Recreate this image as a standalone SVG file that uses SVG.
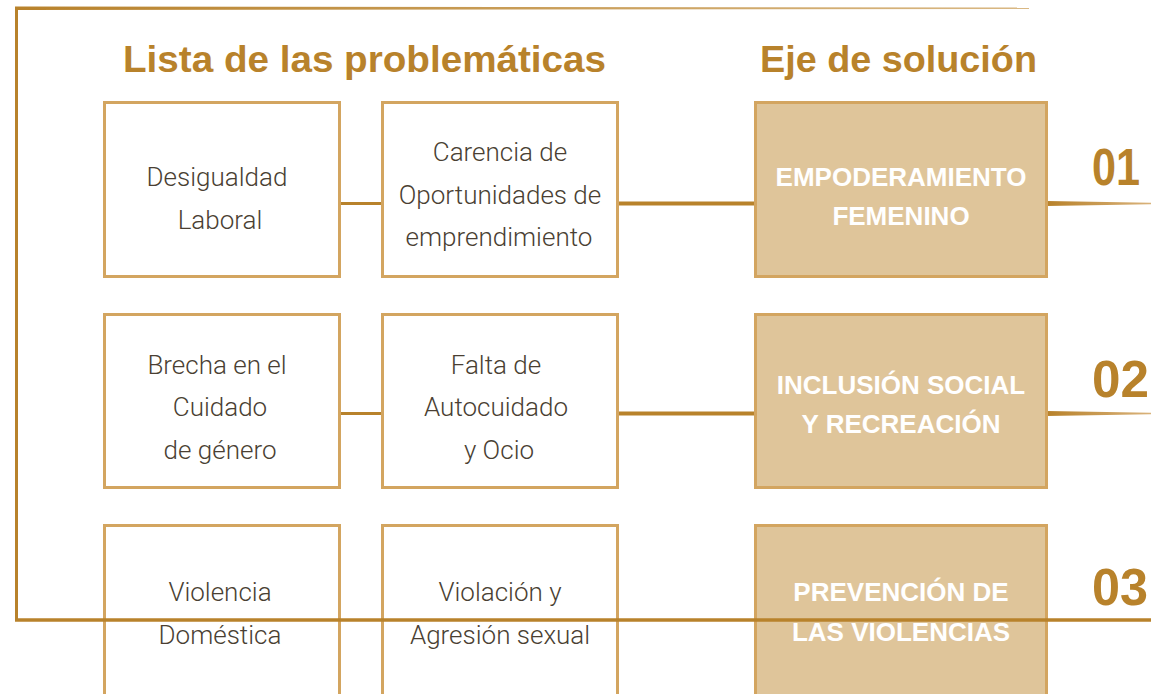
<svg xmlns="http://www.w3.org/2000/svg" width="1151" height="694" viewBox="0 0 1151 694">
<style>
.box{fill:#ffffff;stroke:#D3A560;stroke-width:3}
.sol{fill:#DFC59A;stroke:#D3A560;stroke-width:3}
.t{font-family:Roboto,"Liberation Sans",sans-serif;font-weight:300;font-size:26px;fill:#4A3F33;text-anchor:middle}
.st{font-family:"Liberation Sans",Arial,sans-serif;font-weight:bold;font-size:26px;fill:#ffffff;text-anchor:middle}
.h{font-family:"Liberation Sans",Arial,sans-serif;font-weight:bold;font-size:36px;fill:#B8822B}
.n{font-family:"Liberation Sans",Arial,sans-serif;font-weight:bold;font-size:52px;fill:#B8822B}
.c{stroke:#B8822B;fill:none}
</style>
<defs>
<linearGradient id="taper" x1="0" y1="0" x2="1" y2="0">
<stop offset="0" stop-color="#B8822B"/>
<stop offset="1" stop-color="#D9B27A"/>
</linearGradient>
<linearGradient id="topfade" x1="0" y1="0" x2="1" y2="0">
<stop offset="0" stop-color="#B8822B"/>
<stop offset="1" stop-color="#D9B884"/>
</linearGradient>
<linearGradient id="rightfade" x1="0" y1="0" x2="0" y2="1">
<stop offset="0" stop-color="#D9B884"/>
<stop offset="1" stop-color="#F2E6D2"/>
</linearGradient>
</defs>

<g id="headers">
<text class="h" x="123" y="72" textLength="483" lengthAdjust="spacingAndGlyphs">Lista de las problemáticas</text>
<text class="h" x="760" y="72" textLength="277" lengthAdjust="spacingAndGlyphs">Eje de solución</text>
</g>

<g id="frame-top">
<polygon points="15,6.5 1029,7.5 1029,9 15,10" fill="url(#topfade)"/>
<line x1="1029" y1="8" x2="1029" y2="100" stroke="url(#rightfade)" stroke-width="1.2"/>
<line x1="16.5" y1="8" x2="16.5" y2="620" stroke="#B8822B" stroke-width="3"/>
</g>

<g id="connectors">
<line class="c" x1="339" y1="203.5" x2="382" y2="203.5" stroke-width="3"/>
<line class="c" x1="617" y1="203.5" x2="755" y2="203.5" stroke-width="4"/>
<polygon points="1047,201 1151,202.8 1151,204.2 1047,206" fill="url(#taper)"/>
<line class="c" x1="339" y1="413.5" x2="382" y2="413.5" stroke-width="3"/>
<line class="c" x1="617" y1="413.5" x2="755" y2="413.5" stroke-width="4"/>
<polygon points="1047,411 1151,412.8 1151,414.2 1047,416" fill="url(#taper)"/>
</g>

<g id="n-desigualdad">
<rect class="box" x="104.5" y="102.5" width="235" height="174"/>
<text class="t" x="217" y="186">Desigualdad</text>
<text class="t" x="220" y="229">Laboral</text>
</g>
<g id="n-carencia">
<rect class="box" x="382.5" y="102.5" width="235" height="174"/>
<text class="t" x="500" y="161">Carencia de</text>
<text class="t" x="500" y="204">Oportunidades de</text>
<text class="t" x="499" y="246">emprendimiento</text>
</g>
<g id="n-empoderamiento">
<rect class="sol" x="755.5" y="102.5" width="291" height="174"/>
<text class="st" x="901" y="186">EMPODERAMIENTO</text>
<text class="st" x="901" y="225">FEMENINO</text>
</g>
<g id="num-01"><text class="n" x="1092" y="185" textLength="48" lengthAdjust="spacingAndGlyphs">01</text></g>

<g id="n-brecha">
<rect class="box" x="104.5" y="314.5" width="235" height="173"/>
<text class="t" x="217" y="374">Brecha en el</text>
<text class="t" x="220" y="416">Cuidado</text>
<text class="t" x="220" y="459">de género</text>
</g>
<g id="n-falta">
<rect class="box" x="382.5" y="314.5" width="235" height="173"/>
<text class="t" x="496" y="374">Falta de</text>
<text class="t" x="496" y="416">Autocuidado</text>
<text class="t" x="499" y="459">y Ocio</text>
</g>
<g id="n-inclusion">
<rect class="sol" x="755.5" y="314.5" width="291" height="173"/>
<text class="st" x="901" y="394">INCLUSIÓN SOCIAL</text>
<text class="st" x="901" y="433">Y RECREACIÓN</text>
</g>
<g id="num-02"><text class="n" x="1092" y="397" textLength="57" lengthAdjust="spacingAndGlyphs">02</text></g>

<g id="n-violencia">
<rect class="box" x="104.5" y="525.5" width="235" height="175"/>
<text class="t" x="220" y="601">Violencia</text>
<text class="t" x="220" y="644">Doméstica</text>
</g>
<g id="n-violacion">
<rect class="box" x="382.5" y="525.5" width="235" height="175"/>
<text class="t" x="500" y="601">Violación y</text>
<text class="t" x="500" y="644">Agresión sexual</text>
</g>
<g id="n-prevencion">
<rect class="sol" x="755.5" y="525.5" width="291" height="175"/>
<text class="st" x="901" y="601">PREVENCIÓN DE</text>
<text class="st" x="901" y="641">LAS VIOLENCIAS</text>
</g>
<g id="num-03"><text class="n" x="1092" y="605" textLength="56" lengthAdjust="spacingAndGlyphs">03</text></g>

<g id="frame-bottom">
<line x1="15" y1="620" x2="1151" y2="620" stroke="#B8822B" stroke-width="3.5"/>
</g>
</svg>
